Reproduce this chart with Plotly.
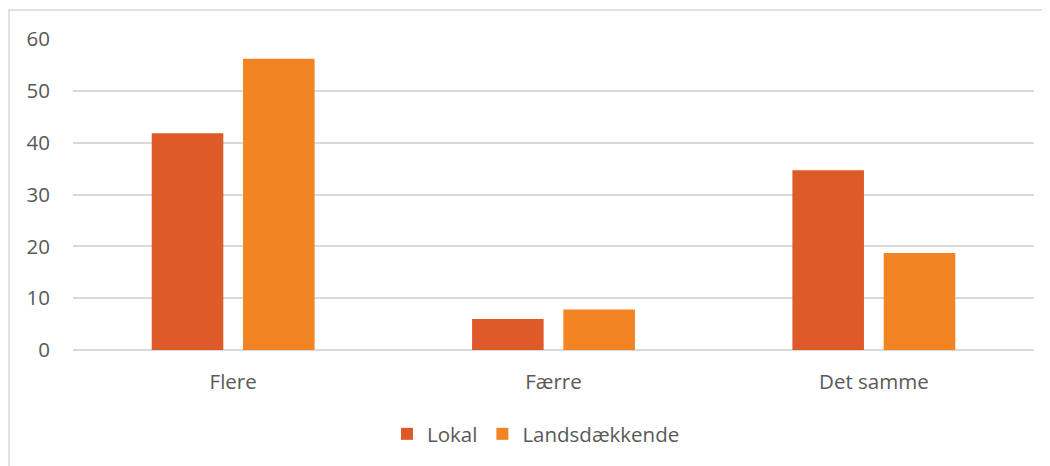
import plotly.graph_objects as go

categories = ["Flere", "Færre", "Det samme"]
lokal = [41.8, 6.0, 34.7]
landsdaekkende = [56.2, 7.8, 18.7]
series_names = ["Lokal", "Landsdækkende"]
colors = ["#DE5A29", "#F38424"]
y_ticks = [0, 10, 20, 30, 40, 50, 60]

# page body has an 8px margin, so figure coords = page coords - 8
W, H = 1042, 458
L, T = 65, 31
R = W - 1026
B = H - 342
pw, ph = W - L - R, H - T - B

fig = go.Figure()
for name, vals, col in zip(series_names, [lokal, landsdaekkende], colors):
    fig.add_trace(go.Bar(x=categories, y=vals, name=name, marker=dict(color=col, line=dict(width=0))))

font = "Open Sans, sans-serif"
fs = 20.5
fig.update_layout(
    width=W, height=H,
    margin=dict(l=L, r=R, t=T, b=B, pad=0),
    paper_bgcolor="white", plot_bgcolor="white",
    barmode="group", bargap=0.43, bargroupgap=0.216,
    font=dict(family=font, size=fs, color="#595959"),
    showlegend=True,
    legend=dict(orientation="h", x=(536 - 8 - L) / pw, xanchor="center",
                y=(342 - 426) / ph, yanchor="middle",
                font=dict(size=fs, color="#595959"), itemwidth=30,
                bgcolor="rgba(0,0,0,0)"),
    xaxis=dict(showgrid=False, showline=False, zeroline=False, ticks="",
               ticklabelstandoff=17, tickfont=dict(size=fs, color="#595959")),
    yaxis=dict(range=[0, 60], tickvals=y_ticks, showgrid=True, gridcolor="#D9D9D9",
               gridwidth=1.5, zeroline=True, zerolinecolor="#D9D9D9", zerolinewidth=1.5,
               showline=False, ticks="", ticklabelstandoff=22,
               tickfont=dict(size=fs, color="#595959")),
    shapes=[dict(type="rect", xref="paper", yref="paper",
                 x0=(1 - L) / pw, x1=(1060 - L) / pw,
                 y0=(342 - 480) / ph, y1=1 + (T - 2) / ph,
                 line=dict(color="#D9D9D9", width=1.5), fillcolor="rgba(0,0,0,0)", layer="below")],
)

fig.write_html("out.html")
